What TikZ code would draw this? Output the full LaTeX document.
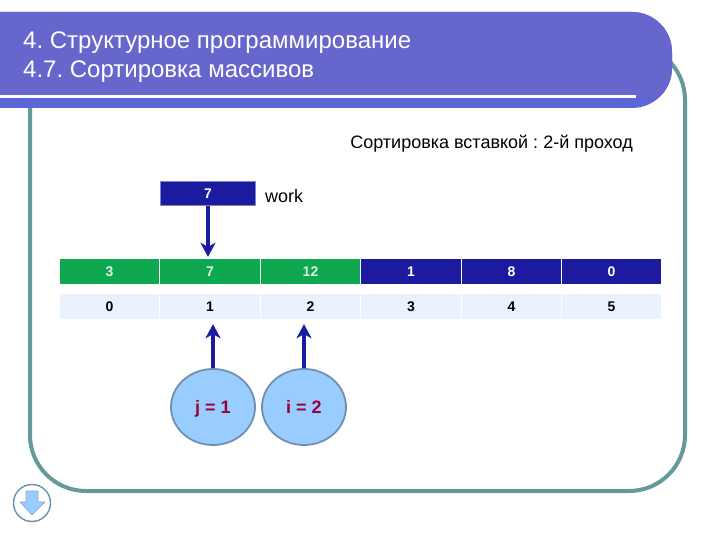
\documentclass[tikz,border=0pt]{standalone}
\usepackage{fontspec}
\setmainfont{Liberation Sans}
\usepackage{xcolor}
\usetikzlibrary{positioning,arrows.meta,calc,shapes.geometric}
\definecolor{title}{HTML}{6666CC}
\definecolor{stripe}{HTML}{5C66D8}
\definecolor{frame}{HTML}{669999}
\definecolor{sorted}{HTML}{0DA850}
\definecolor{navy}{HTML}{1C1A9E}
\definecolor{index}{HTML}{EAF2FD}
\definecolor{bubble}{HTML}{99CCFF}
\definecolor{bubbleline}{HTML}{6F8FB0}
\definecolor{wine}{HTML}{990033}
\frenchspacing
\tikzset{
  cell/.style={minimum width=99.5pt,minimum height=25pt,inner sep=0pt,text height=10pt,text depth=0pt,font=\bfseries\fontsize{14}{16}\selectfont},
  val/.style={cell,fill=navy,text=white},
  done/.style={cell,fill=sorted,text=white!85!sorted},
  idx/.style={cell,fill=index,text=black},
  var/.style={ellipse,draw=bubbleline,line width=1.8pt,fill=bubble,text=wine,minimum width=84pt,minimum height=76pt,inner sep=0pt,text height=13pt,text depth=0pt,font=\bfseries\fontsize{18}{20}\selectfont},
  ptr/.style={draw=navy,line width=4pt,-{Stealth[length=14pt,width=15pt,inset=4pt]}},
  plain/.style={font=\fontsize{18}{21}\selectfont,text=black,inner sep=0pt}
}
\begin{document}
\begin{tikzpicture}[x=1pt,y=-1pt]
\useasboundingbox (0,0) rectangle (720,540);
\draw[frame,line width=4pt,rounded corners=56pt] (30,44) rectangle (685,491);
\fill[stripe,rounded corners=40pt] (-60,12) -- (672,12) -- (672,108) -- (-60,108) -- cycle;
\begin{scope}
\clip (-60,0) rectangle (720,97);
\fill[title,rounded corners=40pt] (-60,12) -- (672,12) -- (672,108) -- (-60,108) -- cycle;
\end{scope}
\fill[white] (0,95) rectangle (636,98);
\node[anchor=north west,inner sep=0pt,text=white,align=left,font=\fontsize{24}{29}\selectfont] (head) at (23,32) {4. Структурное программирование\\4.7. Сортировка массивов};
\node[plain,anchor=east] (caption) at (633,144) {Сортировка вставкой : 2-й проход};
\node[val,draw=navy!55!white,line width=1pt,minimum width=95pt,minimum height=24pt] (work) at (208,194) {7};
\node[plain,right=9pt of work,yshift=-2pt] (worklabel) {work};
\node[done] (v0) at (109.5,271.5) {3};
\node[done] (v1) at (210,271.5) {7};
\node[done] (v2) at (310.5,271.5) {12};
\node[val] (v3) at (411,271.5) {1};
\node[val] (v4) at (511.5,271.5) {8};
\node[val] (v5) at (611.5,271.5) {0};
\foreach \n [count=\k from 0] in {109.5,210,310.5,411,511.5,611.5}
  \node[idx] (i\k) at (\n,306.5) {\k};
\node[var] (jvar) at (213,407) {j = 1};
\node[var] (ivar) at (304,407) {i = 2};
\draw[ptr] (work.south) -- ($(work.south |- v1.north)+(0,-2)$);
\draw[ptr] (jvar.north) -- ($(jvar.north |- i1.south)+(0,5)$);
\draw[ptr] (ivar.north) -- ($(ivar.north |- i2.south)+(0,5)$);
\node[circle,draw=bubbleline,line width=1.4pt,fill=white,minimum size=37pt,inner sep=0pt] (down) at (32,503) {};
\fill[bubble,draw=bubbleline!80!white,line width=.6pt] (26,491) -- (38,491) -- (38,502) -- (45,502) -- (32,515) -- (20,502) -- (26,502) -- cycle;
\end{tikzpicture}
\end{document}
